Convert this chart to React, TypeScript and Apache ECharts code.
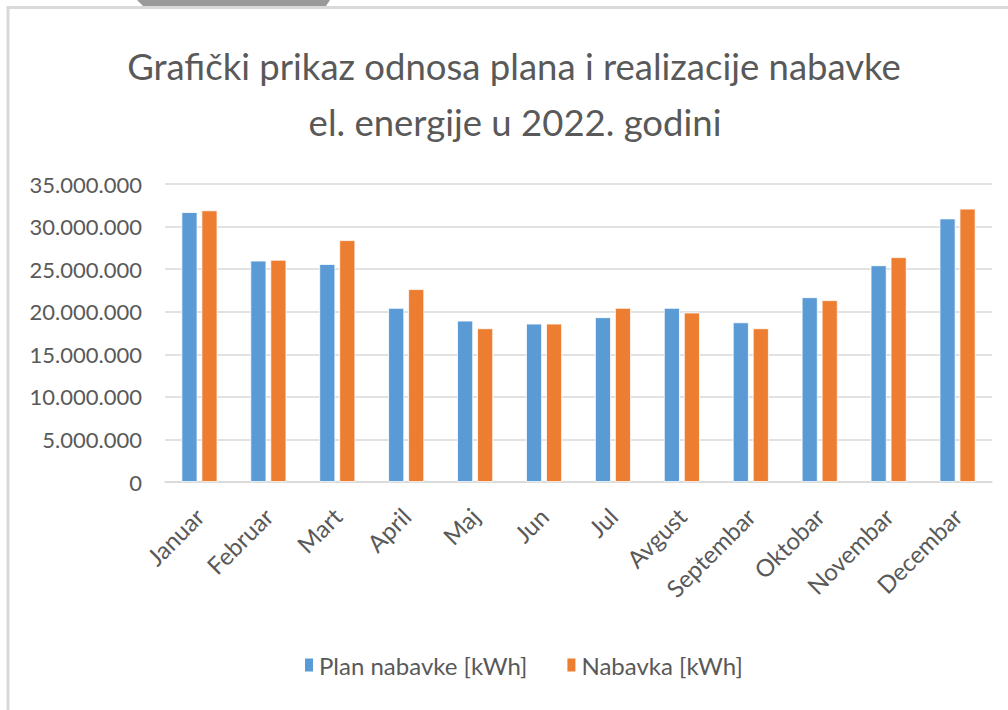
import React, { useEffect, useRef } from "react";
import * as echarts from "echarts";

const titleLines = ["Grafički prikaz odnosa plana i realizacije nabavke", "el. energije u 2022. godini"];
const months = ["Januar", "Februar", "Mart", "April", "Maj", "Jun", "Jul", "Avgust", "Septembar", "Oktobar", "Novembar", "Decembar"];
const seriesNames = ["Plan nabavke [kWh]", "Nabavka [kWh]"];
const planValues = [31700000, 26000000, 25600000, 20450000, 18950000, 18600000, 19350000, 20450000, 18750000, 21700000, 25450000, 30950000];
const nabavkaValues = [31900000, 26100000, 28400000, 22650000, 18050000, 18600000, 20450000, 19900000, 18050000, 21350000, 26400000, 32100000];
const yMin = 0;
const yMax = 35000000;
const yInterval = 5000000;

const FONT = "Lato, 'Open Sans', sans-serif";
const TEXT = "#595959";

function fmt(v: number): string {
  return String(Math.round(v)).replace(/\B(?=(\d{3})+(?!\d))/g, ".");
}

export default function App() {
  const ref = useRef<HTMLDivElement>(null);
  useEffect(() => {
    if (!ref.current) return;
    const chart = echarts.init(ref.current, null, { renderer: "svg" });
    chart.setOption({
      animation: false,
      backgroundColor: "#ffffff",
      textStyle: { fontFamily: FONT },
      graphic: [
        {
          type: "polygon",
          shape: { points: [[137, 0], [330, 0], [326, 6], [143, 6]] },
          style: { fill: "#9a9a9a" },
          silent: true,
        },
        {
          type: "rect",
          shape: { x: 8, y: 7.5, width: 1100, height: 800 },
          style: { fill: "none", stroke: "#d9d9d9", lineWidth: 3 },
          silent: true,
        },
        {
          type: "text",
          x: 514,
          y: 66,
          style: { text: titleLines[0], fontSize: 36.5, fontFamily: FONT, fill: TEXT, align: "center", verticalAlign: "middle" },
        },
        {
          type: "text",
          x: 515,
          y: 122,
          style: { text: titleLines[1], fontSize: 36.5, fontFamily: FONT, fill: TEXT, align: "center", verticalAlign: "middle" },
        },
      ],
      legend: {
        data: seriesNames,
        bottom: 28,
        left: 298,
        itemWidth: 10,
        itemHeight: 15,
        itemGap: 38,
        icon: "rect",
        textStyle: { fontSize: 24, color: TEXT, fontFamily: FONT, padding: [0, 0, 0, 0] },
      },
      grid: { left: 165, right: 16, top: 184, bottom: 228, containLabel: false },
      xAxis: {
        type: "category",
        data: months,
        axisLine: { lineStyle: { color: "#d9d9d9", width: 1.5 } },
        axisTick: { show: false },
        axisLabel: { rotate: 45, margin: 30, fontSize: 24, color: TEXT, fontFamily: FONT, interval: 0 },
      },
      yAxis: {
        type: "value",
        min: yMin,
        max: yMax,
        interval: yInterval,
        axisLine: { show: false },
        axisTick: { show: false },
        splitLine: { lineStyle: { color: "#d9d9d9", width: 1.5 } },
        axisLabel: { margin: 23, fontSize: 22, color: TEXT, fontFamily: FONT, formatter: (v: number) => fmt(v) },
      },
      series: [
        {
          name: seriesNames[0],
          type: "bar",
          data: planValues,
          barWidth: 16,
          barGap: "25%",
          itemStyle: { color: "#5b9bd5", borderColor: "#ffffff", borderWidth: 0.8 },
        },
        {
          name: seriesNames[1],
          type: "bar",
          data: nabavkaValues,
          barWidth: 16,
          itemStyle: { color: "#ed7d31", borderColor: "#ffffff", borderWidth: 0.8 },
        },
      ],
    });
    return () => chart.dispose();
  }, []);
  return <div ref={ref} style={{ position: "fixed", left: 0, top: 0, width: 1008, height: 710 }} />;
}
